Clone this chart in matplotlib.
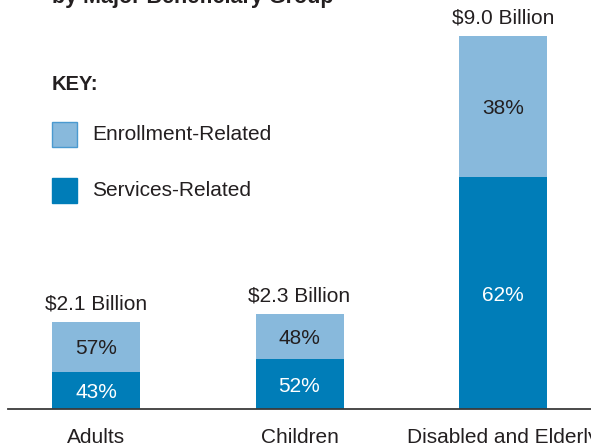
import matplotlib
matplotlib.use("Agg")
import matplotlib.pyplot as plt
from matplotlib.patches import Rectangle
import numpy as np

categories = ["Adults", "Children", "Disabled and Elderly"]
totals = [2.1, 2.3, 9.0]  # billions
services_pct = [43, 52, 62]
enrollment_pct = [57, 48, 38]
total_labels = ["$2.1 Billion", "$2.3 Billion", "$9.0 Billion"]
legend_labels = ["Enrollment-Related", "Services-Related"]
subtitle = "by Major Beneficiary Group"

LIGHT = "#88b9dc"
DARK = "#007db8"
TEXT = "#231f20"
plt.rcParams["font.family"] = ["Liberation Sans", "DejaVu Sans"]
FS = 15

W, H = 591, 445
fig = plt.figure(figsize=(W / 100, H / 100), dpi=100)


def fx(px):
    return px / W


def fy(py):
    return 1 - py / H


# axes: baseline at y=409 px, bars centered at 96 + 203.5*i px
ax = fig.add_axes([fx(8), 36 / H, 1 - fx(8), 409 / H])
step = 203.5
ax.set_xlim((8 - 96) / step, (W - 96) / step)
ax.set_ylim(0, 409 / 41.5)

x = np.arange(len(categories))
totals_a = np.array(totals)
serv = totals_a * np.array(services_pct) / 100
enrl = totals_a - serv
width = 88 / step

ax.bar(x, serv, width, color=DARK, zorder=2)
ax.bar(x, enrl, width, bottom=serv, color=LIGHT, zorder=2)

for i in range(len(categories)):
    ax.text(x[i], serv[i] / 2 - 0.05, f"{services_pct[i]}%", ha="center", va="center",
            color="white", fontsize=FS)
    ax.text(x[i], serv[i] + enrl[i] / 2 - 0.05, f"{enrollment_pct[i]}%", ha="center",
            va="center", color=TEXT, fontsize=FS)
    ax.text(x[i], totals_a[i] + 0.2, total_labels[i], ha="center", va="bottom",
            color=TEXT, fontsize=FS)

for s in ["top", "left", "right"]:
    ax.spines[s].set_visible(False)
ax.spines["bottom"].set_color("#3a3a3a")
ax.spines["bottom"].set_linewidth(1.3)
ax.set_yticks([])
ax.set_xticks(x)
ax.set_xticklabels(categories, fontsize=FS, color=TEXT)
ax.tick_params(axis="x", length=0, pad=14)

# legend
fig.text(fx(52), fy(85), "KEY:", fontsize=14.5, fontweight="bold", color=TEXT,
         ha="left", va="center")
for lab, col, top in zip(legend_labels, [LIGHT, DARK], [122, 178]):
    edge = "#4a9ad0" if col == LIGHT else col
    fig.add_artist(Rectangle((fx(52), fy(top + 25)), fx(25), 25 / H,
                             transform=fig.transFigure, facecolor=col,
                             edgecolor=edge, linewidth=1))
    fig.text(fx(92), fy(top + 12.5), lab, fontsize=FS, color=TEXT,
             ha="left", va="center")

# clipped subtitle at top
fig.text(fx(52), fy(3), subtitle, fontsize=15.5, fontweight="bold", color=TEXT,
         ha="left", va="baseline")

fig.savefig("out.png", dpi=100)
